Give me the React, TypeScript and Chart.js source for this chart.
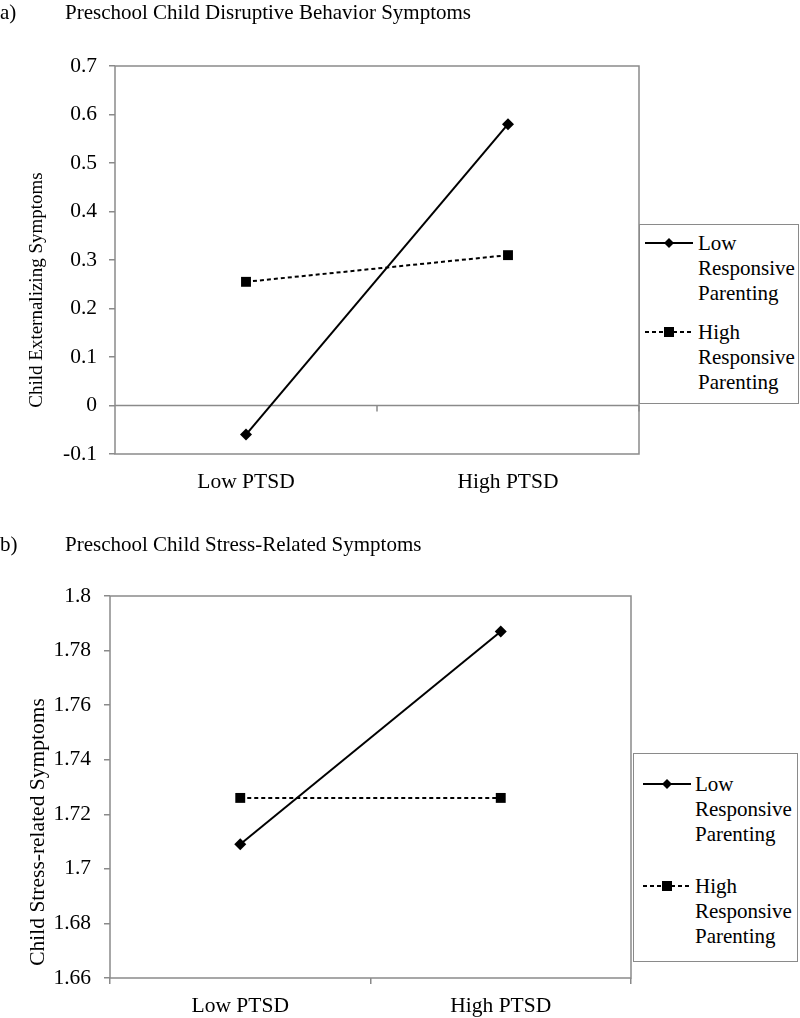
import React, { useEffect, useRef } from "react";
import { Chart, registerables } from "chart.js";

Chart.register(...registerables);

const categories = ["Low PTSD", "High PTSD"];
const seriesNames = ["Low Responsive Parenting", "High Responsive Parenting"];

const aLowResponsive = [-0.06, 0.58];
const aHighResponsive = [0.255, 0.31];
const aYMin = -0.1;
const aYMax = 0.7;
const aYStep = 0.1;

const bLowResponsive = [1.709, 1.787];
const bHighResponsive = [1.726, 1.726];
const bYMin = 1.66;
const bYMax = 1.8;
const bYStep = 0.02;

const GRAY = "#8a8a8a";
const SERIF = "'Liberation Serif', 'Times New Roman', serif";
const BOOK = "'Liberation Serif', 'Times New Roman', serif";

function framePlugin(zeroAxis: boolean, yTitle: string, titleX: number, titleY: number, titleSize: number) {
  return {
    id: "frame",
    beforeDatasetsDraw(chart: any) {
      const { ctx, chartArea } = chart;
      const { left, right, top, bottom } = chartArea;
      ctx.save();
      ctx.strokeStyle = GRAY;
      ctx.lineWidth = 1.5;
      ctx.strokeRect(left, top, right - left, bottom - top);
      if (zeroAxis) {
        const y = chart.scales.y.getPixelForValue(0);
        ctx.beginPath();
        ctx.moveTo(left, y);
        ctx.lineTo(right, y);
        const n = chart.data.labels.length;
        for (let i = 1; i <= n; i++) {
          const x = left + ((right - left) * i) / n;
          ctx.moveTo(x, y);
          ctx.lineTo(x, y + 6);
        }
        ctx.stroke();
      }
      ctx.restore();
    },
    afterDraw(chart: any) {
      const { ctx } = chart;
      ctx.save();
      ctx.translate(titleX, titleY);
      ctx.rotate(-Math.PI / 2);
      ctx.fillStyle = "#000";
      ctx.font = `${titleSize}px ${SERIF}`;
      ctx.textAlign = "center";
      ctx.textBaseline = "middle";
      ctx.fillText(yTitle, 0, 0);
      ctx.restore();
    },
  };
}

function makeConfig(opts: {
  low: number[];
  high: number[];
  min: number;
  max: number;
  step: number;
  yTitle: string;
  areaTop: number;
  areaBottom: number;
  areaLeft: number;
  areaRight: number;
  height: number;
  zeroAxis: boolean;
  labelPad: number;
  yLabelPad: number;
  titleX: number;
  titleY: number;
  titleSize: number;
}) {
  const fmt = (v: number) => String(Number(Number(v).toFixed(3)));
  return {
    type: "line" as const,
    data: {
      labels: categories,
      datasets: [
        {
          label: seriesNames[0],
          data: opts.low,
          borderColor: "#000",
          backgroundColor: "#000",
          borderWidth: 2,
          pointStyle: "rectRot",
          pointRadius: 6,
          pointBorderWidth: 0,
          fill: false,
        },
        {
          label: seriesNames[1],
          data: opts.high,
          borderColor: "#000",
          backgroundColor: "#000",
          borderWidth: 2,
          borderDash: [4, 3],
          pointStyle: "rect",
          pointRadius: 7,
          pointBorderWidth: 0,
          fill: false,
        },
      ],
    },
    options: {
      responsive: false,
      animation: false,
      events: [],
      layout: {
        padding: {
          top: opts.areaTop,
          right: 800 - opts.areaRight,
          left: 0,
          bottom: 0,
        },
      },
      plugins: {
        legend: { display: false },
        tooltip: { enabled: false },
        title: { display: false },
      },
      scales: {
        x: {
          type: "category",
          offset: true,
          grid: {
            display: !opts.zeroAxis,
            drawOnChartArea: false,
            drawTicks: true,
            tickLength: 6,
            color: GRAY,
            lineWidth: 1.5,
            offset: true,
          },
          border: { display: false },
          ticks: {
            color: "#000",
            font: { family: BOOK, size: 21.5 },
            padding: opts.labelPad,
            maxRotation: 0,
          },
          afterFit(scale: any) {
            scale.height = opts.height - opts.areaBottom;
          },
        },
        y: {
          min: opts.min,
          max: opts.max,
          grid: {
            display: true,
            drawOnChartArea: false,
            drawTicks: true,
            tickLength: 6,
            color: GRAY,
            lineWidth: 1.5,
          },
          border: { display: false },
          ticks: {
            stepSize: opts.step,
            color: "#000",
            font: { family: SERIF, size: 21.5 },
            padding: opts.yLabelPad,
            callback: (v: any) => fmt(v),
          },
          title: { display: false },
          afterFit(scale: any) {
            scale.width = opts.areaLeft;
          },
        },
      },
    },
    plugins: [framePlugin(opts.zeroAxis, opts.yTitle, opts.titleX, opts.titleY, opts.titleSize)],
  };
}

function LineChart(props: { config: any; width: number; height: number }) {
  const ref = useRef<HTMLCanvasElement | null>(null);
  useEffect(() => {
    if (!ref.current) return;
    const chart = new Chart(ref.current, props.config);
    return () => chart.destroy();
  }, []);
  return (
    <canvas
      ref={ref}
      width={props.width}
      height={props.height}
      style={{ width: props.width, height: props.height, display: "block" }}
    />
  );
}

function LegendSample(props: { dashed: boolean; marker: "diamond" | "square" }) {
  return (
    <svg width={50} height={14} style={{ position: "absolute", left: 0, top: -7 }}>
      <line
        x1={0}
        y1={7}
        x2={48}
        y2={7}
        stroke="#000"
        strokeWidth={2}
        strokeDasharray={props.dashed ? "4 3" : undefined}
      />
      {props.marker === "diamond" ? (
        <polygon points="24,2 29,7 24,12 19,7" fill="#000" />
      ) : (
        <rect x={19} y={2} width={10} height={10} fill="#000" />
      )}
    </svg>
  );
}

function Legend(props: {
  left: number;
  top: number;
  width: number;
  height: number;
  rows: number[];
  sampleX: number;
  textX: number;
}) {
  const lines = [
    ["Low", "Responsive", "Parenting"],
    ["High", "Responsive", "Parenting"],
  ];
  const lh = 25;
  return (
    <div
      style={{
        position: "absolute",
        left: props.left,
        top: props.top,
        width: props.width,
        height: props.height,
        border: `1.5px solid ${GRAY}`,
        boxSizing: "border-box",
        background: "#fff",
      }}
    >
      {lines.map((ls, i) => (
        <React.Fragment key={i}>
          <div style={{ position: "absolute", left: props.sampleX, top: props.rows[i] }}>
            <LegendSample dashed={i === 1} marker={i === 0 ? "diamond" : "square"} />
          </div>
          {ls.map((t, j) => (
            <div
              key={j}
              style={{
                position: "absolute",
                left: props.textX,
                top: props.rows[i] + j * lh - lh / 2,
                height: lh,
                lineHeight: `${lh}px`,
                fontFamily: BOOK,
                fontSize: 21,
                color: "#000",
                whiteSpace: "nowrap",
              }}
            >
              {t}
            </div>
          ))}
        </React.Fragment>
      ))}
    </div>
  );
}

function Heading(props: { top: number; tag: string; text: string }) {
  const style: React.CSSProperties = {
    position: "absolute",
    top: props.top,
    fontFamily: BOOK,
    fontSize: 21,
    lineHeight: "24px",
    color: "#000",
    whiteSpace: "nowrap",
  };
  return (
    <>
      <div style={{ ...style, left: 0 }}>{props.tag}</div>
      <div style={{ ...style, left: 65 }}>{props.text}</div>
    </>
  );
}

export default function App() {
  const configA = makeConfig({
    low: aLowResponsive,
    high: aHighResponsive,
    min: aYMin,
    max: aYMax,
    step: aYStep,
    yTitle: "Child Externalizing Symptoms",
    areaTop: 66,
    areaBottom: 454,
    areaLeft: 115,
    areaRight: 639,
    height: 505,
    zeroAxis: true,
    labelPad: 9,
    yLabelPad: 12,
    titleX: 37,
    titleY: 290,
    titleSize: 19,
  });
  const configB = makeConfig({
    low: bLowResponsive,
    high: bHighResponsive,
    min: bYMin,
    max: bYMax,
    step: bYStep,
    yTitle: "Child Stress-related Symptoms",
    areaTop: 76,
    areaBottom: 458,
    areaLeft: 110,
    areaRight: 631,
    height: 498,
    zeroAxis: false,
    labelPad: 9,
    yLabelPad: 13,
    titleX: 38,
    titleY: 312,
    titleSize: 21.5,
  });
  return (
    <div
      style={{
        position: "absolute",
        left: 0,
        top: 0,
        width: 800,
        height: 1018,
        background: "#fff",
        overflow: "hidden",
      }}
    >
      <div style={{ position: "absolute", left: 0, top: 0 }}>
        <LineChart config={configA} width={800} height={505} />
      </div>
      <div style={{ position: "absolute", left: 0, top: 520 }}>
        <LineChart config={configB} width={800} height={498} />
      </div>
      <Heading top={0} tag="a)" text="Preschool Child Disruptive Behavior Symptoms" />
      <Heading top={532} tag="b)" text="Preschool Child Stress-Related Symptoms" />
      <Legend left={639} top={224} width={160} height={180} rows={[18, 107]} sampleX={5} textX={58} />
      <Legend left={633} top={753} width={165} height={209} rows={[30, 132]} sampleX={9} textX={61} />
    </div>
  );
}
